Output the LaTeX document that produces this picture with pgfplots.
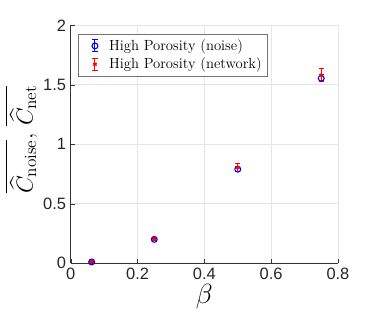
\documentclass[border=0pt]{standalone}
\usepackage{pgfplots}
\pgfplotsset{compat=1.18}
\usepackage{fontspec}
\setsansfont{Liberation Sans}
\usepackage{amsmath}
\pgfplotsset{
  ebleg/.style={legend image code/.code={
    \path[draw=none] (0cm,0cm) -- (0.66cm,0cm);
    \draw[#1, line width=0.8pt] (0.36cm,-4.5pt) -- (0.36cm,4.5pt);
    \draw[#1, line width=0.8pt] (0.36cm-2pt,-4.5pt) -- (0.36cm+2pt,-4.5pt);
    \draw[#1, line width=0.8pt] (0.36cm-2pt,4.5pt) -- (0.36cm+2pt,4.5pt);
    \draw plot[only marks] coordinates {(0.36cm,0cm)};
  }}
}
\begin{document}
\begin{tikzpicture}
\begin{axis}[
  scale only axis,
  width=200pt, height=178pt,
  xmin=0, xmax=0.8, ymin=0, ymax=2,
  xtick={0,0.2,0.4,0.6,0.8},
  ytick={0,0.5,1,1.5,2},
  xticklabels={0,0.2,0.4,0.6,0.8},
  yticklabels={0,0.5,1,1.5,2},
  tick label style={font=\sffamily\fontsize{12.3}{14}\selectfont, color=black!85},
  axis x line*=bottom, axis y line*=left,
  axis line style={black!80, line width=0.5pt},
  tick style={black!80},
  tick align=inside,
  major tick length=3pt,
  grid=major,
  grid style={black!10, line width=0.5pt},
  xlabel={\fontsize{21}{24}\selectfont$\beta$},
  ylabel={\fontsize{18.5}{22}\selectfont$\overline{\widehat{C}_{\text{noise}}},\,\overline{\widehat{C}_{\text{net}}}$},
  xlabel style={yshift=3pt},
  ylabel style={at={(axis description cs:-0.185,0.52)}, anchor=center},
  legend style={at={(0.028,0.965)}, anchor=north west, draw=black!55, line width=0.5pt,
    font=\fontsize{11}{13}\selectfont, inner sep=2pt, row sep=0pt},
  legend cell align=left,
]
\addplot[blue, line width=0.8pt, mark=o, mark size=2.2pt, only marks, ebleg=blue,
  error bars/.cd, y dir=both, y explicit, error bar style={blue, line width=0.8pt},
  error mark options={rotate=90, mark size=2pt, blue, line width=0.8pt}]
  coordinates {
  (0.0625,0.010) +- (0,0.008)
  (0.25,0.200) +- (0,0.010)
  (0.5,0.790) +- (0,0.020)
  (0.75,1.555) +- (0,0.030)
  };
\addlegendentry{High Porosity (noise)}
\addplot[red, line width=0.8pt, mark=asterisk, mark size=1.6pt, only marks, ebleg=red,
  error bars/.cd, y dir=both, y explicit, error bar style={red, line width=0.8pt},
  error mark options={rotate=90, mark size=2pt, red, line width=0.8pt}]
  coordinates {
  (0.0625,0.012) +- (0,0.010)
  (0.25,0.205) +- (0,0.012)
  (0.5,0.805) +- (0,0.035)
  (0.75,1.580) +- (0,0.055)
  };
\addlegendentry{High Porosity (network)}
\end{axis}
\path ([shift={(-53pt,-52.5pt)}]current axis.south west) rectangle ([shift={(27pt,19pt)}]current axis.north east);
\end{tikzpicture}
\end{document}
